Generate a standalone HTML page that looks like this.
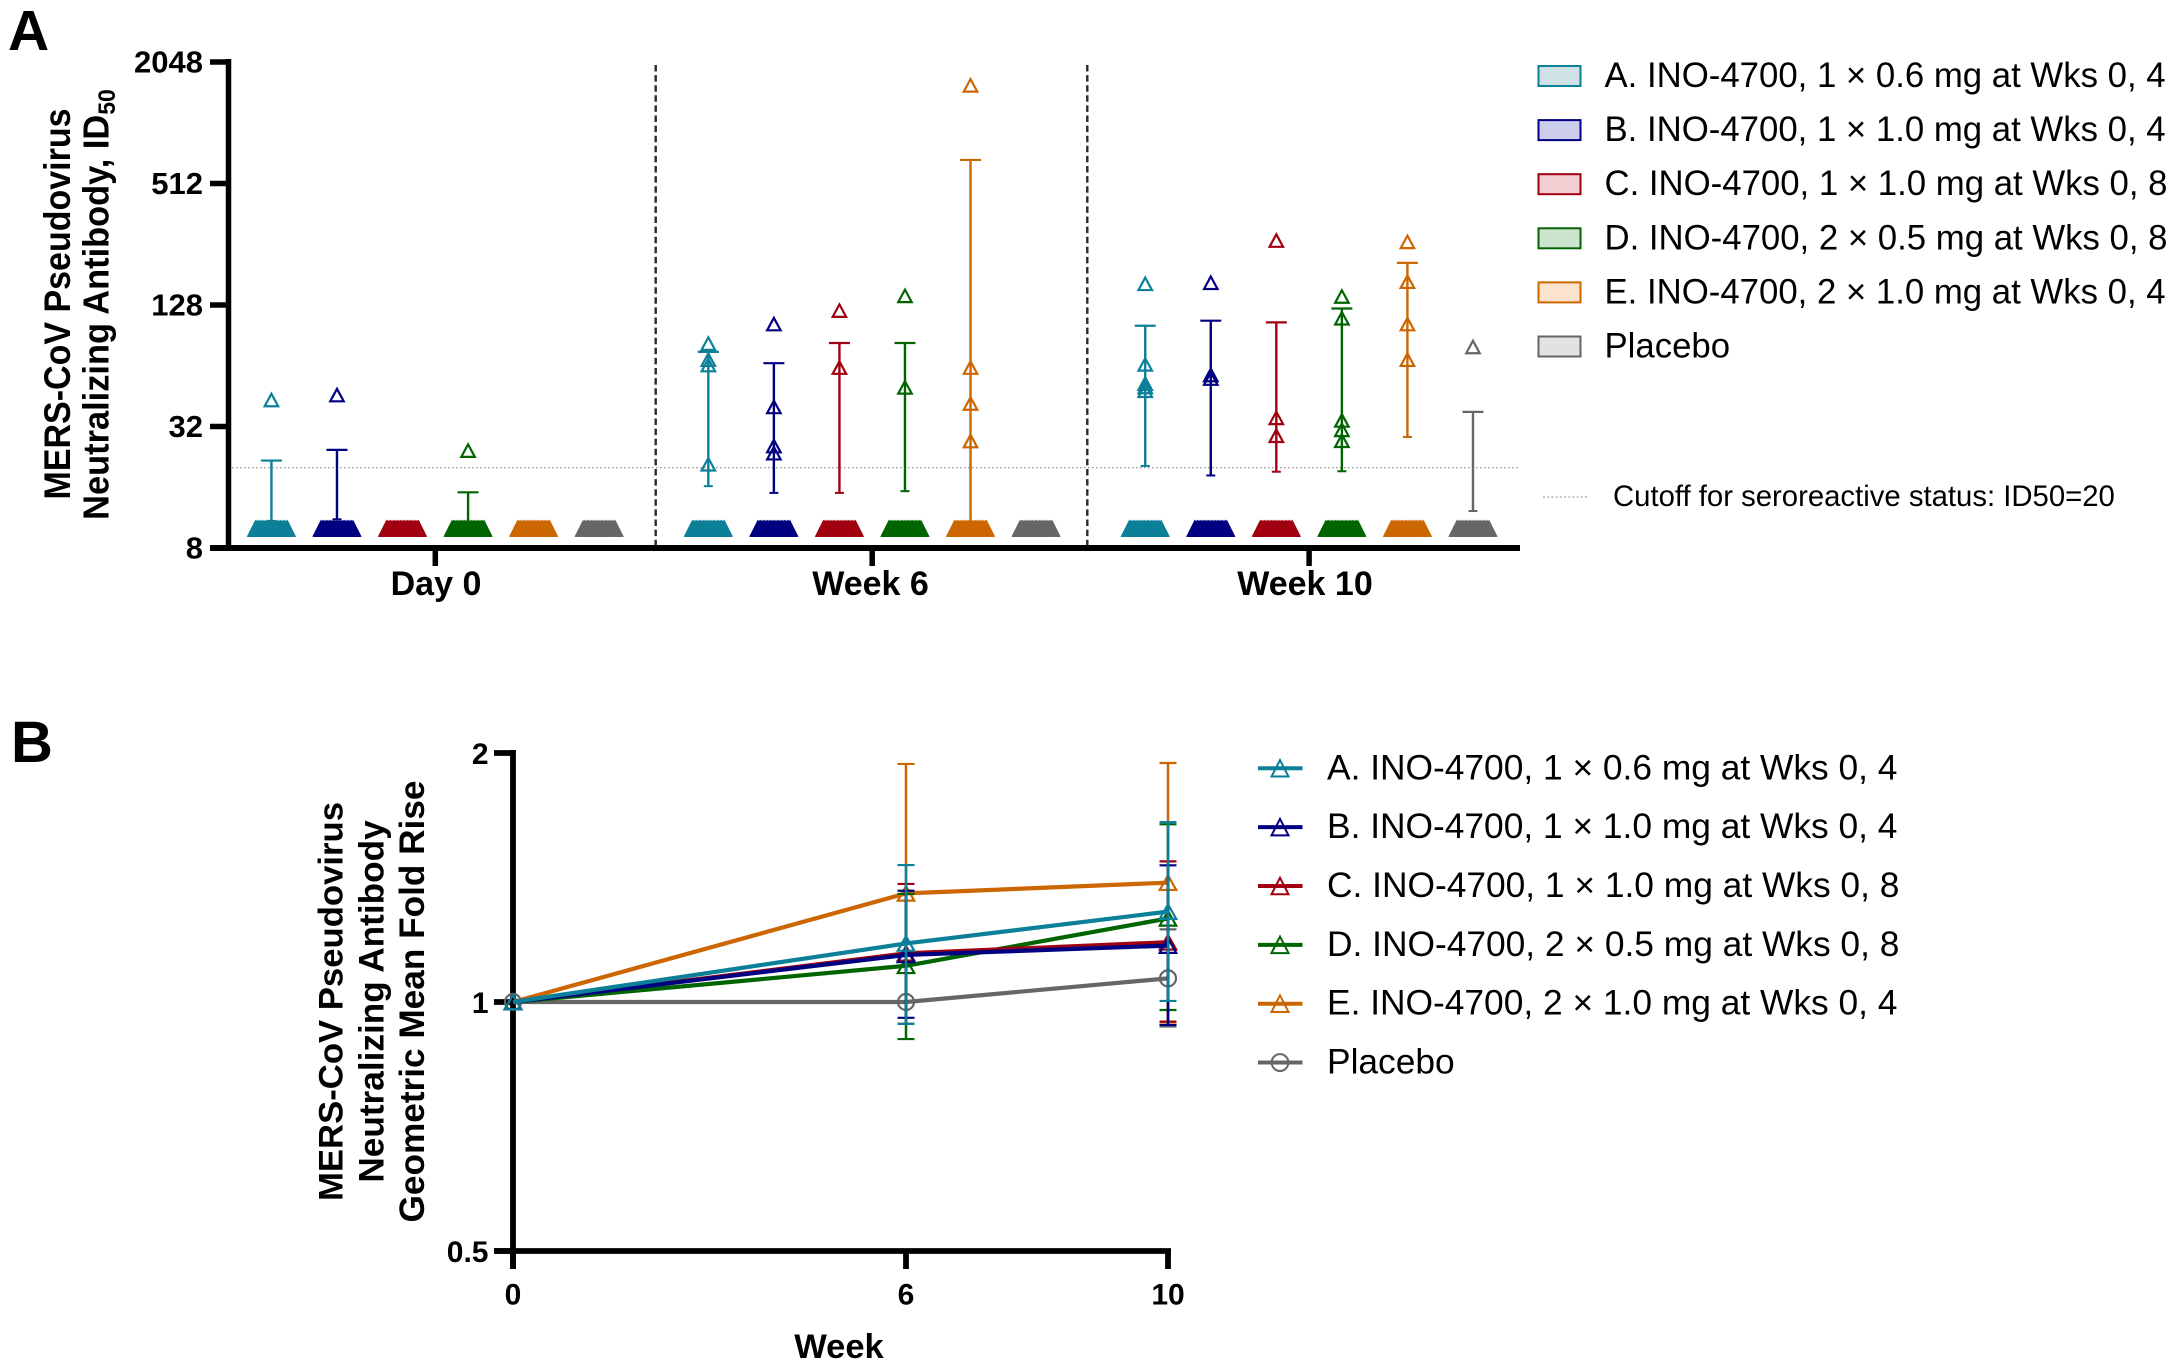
<!DOCTYPE html>
<html lang="en">
<head>
<meta charset="utf-8">
<title>MERS-CoV Pseudovirus Neutralizing Antibody</title>
<style>
html,body{margin:0;padding:0;background:#fff;}
svg{display:block;font-family:"Liberation Sans",Arial,sans-serif;}
.b{font-weight:700;fill:#000;}
.r{fill:#000;}
</style>
</head>
<body>
<svg id="fig" width="2174" height="1366" viewBox="0 0 2174 1366" xmlns="http://www.w3.org/2000/svg">
  <rect width="2174" height="1366" fill="#fff"/>
  <text class="b" x="8" y="50" font-size="57">A</text>
  <text class="b" x="11" y="762" font-size="58">B</text>
  <text class="b" text-anchor="middle" font-size="34" transform="translate(70,304) rotate(-90) scale(1,1.1)">MERS-CoV Pseudovirus</text>
  <text class="b" text-anchor="middle" font-size="34.4" transform="translate(108.5,304.5) rotate(-90) scale(1,1.05)">Neutralizing Antibody, ID<tspan font-size="23" dy="6">50</tspan></text>
  <text class="b" text-anchor="middle" font-size="34.7" transform="translate(342.5,1001.5) rotate(-90)">MERS-CoV Pseudovirus</text>
  <text class="b" text-anchor="middle" font-size="35.2" transform="translate(383.5,1001.5) rotate(-90)">Neutralizing Antibody</text>
  <text class="b" text-anchor="middle" font-size="35.2" transform="translate(424,1001.5) rotate(-90)">Geometric Mean Fold Rise</text>
  <text class="b" text-anchor="middle" font-size="34.5" x="839" y="1358">Week</text>
  <text class="r" x="1613" y="506" font-size="29.3">Cutoff for seroreactive status: ID50=20</text>
  <line x1="1543" x2="1588" y1="497" y2="497" stroke="#b4b4b4" stroke-width="1.6" stroke-dasharray="2 2.2"/>
</svg>
<script>
// ---------- shared ----------
const groupLabels = ['A. INO-4700, 1 × 0.6 mg at Wks 0, 4','B. INO-4700, 1 × 1.0 mg at Wks 0, 4','C. INO-4700, 1 × 1.0 mg at Wks 0, 8','D. INO-4700, 2 × 0.5 mg at Wks 0, 8','E. INO-4700, 2 × 1.0 mg at Wks 0, 4','Placebo'];
const seriesColors = ['#0c7f99','#000080','#a00010','#006400','#cc6600','#666666'];
const swatchFills = ['#d0e1e6','#cccdeb','#f3ced2','#cde5cf','#fce3ce','#e2e2e2'];

// ---------- panel A data ----------
const timeCategories = ['Day 0','Week 6','Week 10'];
const yTicksA = [8,32,128,512,2048];
const cutoffValue = 20;
const lodValue = 10;
const lodCounts = [24,24,24,24,24,24];
const day0Points = [[43.3],[45.8],[],[24.3],[],[]];
const day0Upper = [21.7,24.5,10,15.1,10,10];
const day0Lower = [10.9,11.1,10,10.4,10,10];
const week6Points = [[82.4,68.6,64.5,20.8],[103,40,25.6,23.6],[120,62.7],[142,50],[1568,62.7,41.6,27.1],[]];
const week6Upper = [75,65.9,83,83,670,10];
const week6Lower = [16.2,15,15,15.3,10.6,10];
const week10Points = [[163,65,52.2,50.2,48.1],[165,57.6,55.3],[267,35.3,28.8],[141,110,34.3,30.8,27.2],[263,167,103,68.6],[79.3]];
const week10Upper = [101,107,105,123,207,37.8];
const week10Lower = [20.4,18.3,19.1,19.2,28.4,12.2];
const pointsByTime = [day0Points,week6Points,week10Points];
const upperByTime = [day0Upper,week6Upper,week10Upper];
const lowerByTime = [day0Lower,week6Lower,week10Lower];

// ---------- panel B data ----------
const weekTicks = [0,6,10];
const yTicksB = [0.5,1,2];
const foldA = [1,1.177,1.286];
const foldB = [1,1.140,1.170];
const foldC = [1,1.145,1.181];
const foldD = [1,1.106,1.262];
const foldE = [1,1.353,1.394];
const foldPlacebo = [1,1.0,1.068];
const upperA = [null,1.464,1.65];
const lowerA = [null,0.941,1.003];
const upperB = [null,1.363,1.463];
const lowerB = [null,0.957,0.938];
const upperC = [null,1.389,1.479];
const lowerC = [null,0.941,0.947];
const upperD = [null,1.351,1.64];
const lowerD = [null,0.902,0.978];
const upperE = [null,1.94,1.945];
const lowerE = [null,0.941,0.945];
const upperPlacebo = [null,null,1.224];
const lowerPlacebo = [null,null,0.934];
const foldSeries = [foldA,foldB,foldC,foldD,foldE,foldPlacebo];
const upperSeries = [upperA,upperB,upperC,upperD,upperE,upperPlacebo];
const lowerSeries = [lowerA,lowerB,lowerC,lowerD,lowerE,lowerPlacebo];

// ---------- helpers ----------
const svg = document.getElementById('fig');
const NS = 'http://www.w3.org/2000/svg';
function mk(parent, tag, attrs, txt){
  const el = document.createElementNS(NS, tag);
  for (const k in attrs) el.setAttribute(k, attrs[k]);
  if (txt !== undefined) el.textContent = txt;
  parent.appendChild(el);
  return el;
}
function triPts(cx, cy, w, h){
  return (cx-w/2)+','+(cy+h/2)+' '+cx+','+(cy-h/2)+' '+(cx+w/2)+','+(cy+h/2);
}

// ---------- axis functions ----------
function yA(v){ return 548 - 60.75*Math.log2(v/8); }
function catX(i){ return 435.3 + 436.9*i; }
function catLabelX(i){ return 436 + 434.5*i; }
function dividerX(i){ return 655.7 + 431.6*i; }
function groupX(i,g){ return catX(i) + (g-2.5)*65.55; }
function yB(v){ return 1002 - 249*Math.log2(v); }
function xB(w){ return 513 + 65.5*w; }

// ---------- panel A ----------
const gA = mk(svg,'g',{});



const cut = mk(gA,'line',{x1:232,x2:1520,y1:yA(cutoffValue),y2:yA(cutoffValue),stroke:'#8a8a8a','stroke-width':1.2,'stroke-dasharray':'1.6 2.4'});



[0,1].forEach(function(i){
  const sx = dividerX(i);
  const d = mk(gA,'line',{x1:sx,x2:sx,y1:65,y2:548,stroke:'#2a2a2a','stroke-width':2.4,'stroke-dasharray':'6.5 3.6'});
  
  
});

timeCategories.forEach(function(cat,t){
  groupLabels.forEach(function(lab,g){
    const col = seriesColors[g];
    const cx = groupX(t,g);
    const grp = mk(gA,'g',{fill:'none',stroke:col});
    
    
    // undetectable participants, stacked side by side at the assay floor
    const n = lodCounts[g];
    for (let k=0;k<n;k++){
      const p = mk(grp,'polygon',{points:triPts(cx+(k-(n-1)/2)*1.4,yA(lodValue)+0.4,14,14),'stroke-width':2,'stroke-linejoin':'miter'});
      
      
    }
    pointsByTime[t][g].forEach(function(v){
      const p = mk(grp,'polygon',{points:triPts(cx,yA(v),13.5,12.5),'stroke-width':2.2,'stroke-linejoin':'miter'});
      
      
    });
    const up = upperByTime[t][g], lo = lowerByTime[t][g];
    const bar = mk(grp,'line',{x1:cx,x2:cx,y1:yA(up),y2:yA(lo),'stroke-width':2.4});
    
    
    const capU = mk(grp,'line',{x1:cx-10.5,x2:cx+10.5,y1:yA(up),y2:yA(up),'stroke-width':2.2});
    
    
    const capL = mk(grp,'line',{x1:cx-4.5,x2:cx+4.5,y1:yA(lo),y2:yA(lo),'stroke-width':2});
    
    
  });
});

const axYA = mk(gA,'line',{x1:228.5,x2:228.5,y1:yA(2048)-3,y2:yA(8)+3,stroke:'#000','stroke-width':5.5});


const axXA = mk(gA,'line',{x1:210,x2:1520,y1:yA(8),y2:yA(8),stroke:'#000','stroke-width':6});


yTicksA.forEach(function(v){
  const tk = mk(gA,'line',{x1:210,x2:228,y1:yA(v),y2:yA(v),stroke:'#000','stroke-width':5.5});
  
  
  const tl = mk(gA,'text',{x:203,y:yA(v)+10.5,'text-anchor':'end','font-size':31,'class':'b'},String(v));
  
  
});
timeCategories.forEach(function(cat,t){
  const tk = mk(gA,'line',{x1:catX(t),x2:catX(t),y1:548,y2:566,stroke:'#000','stroke-width':5.5});
  
  
  const tl = mk(gA,'text',{x:catLabelX(t),y:595,'text-anchor':'middle','font-size':34,'class':'b'},cat);
  
  
});

// panel A legend
groupLabels.forEach(function(lab,g){
  const cy = 76 + g*54.1;
  const sw = mk(svg,'rect',{x:1538.5,y:cy-10,width:42,height:20,fill:swatchFills[g],stroke:seriesColors[g],'stroke-width':2});
  
  
  const tx = mk(svg,'text',{x:1604.5,y:cy+11,'font-size':34.75,'class':'r'},lab);
  
  
});

// ---------- panel B ----------
const gB = mk(svg,'g',{});



const axYB = mk(gB,'line',{x1:513,x2:513,y1:yB(2)-3,y2:1269,stroke:'#000','stroke-width':5.8});


const axXB = mk(gB,'line',{x1:494,x2:xB(10)+3,y1:yB(0.5),y2:yB(0.5),stroke:'#000','stroke-width':5.8});


yTicksB.forEach(function(v){
  const tk = mk(gB,'line',{x1:494,x2:512,y1:yB(v),y2:yB(v),stroke:'#000','stroke-width':5.8});
  
  
  const tl = mk(gB,'text',{x:488.5,y:yB(v)+11,'text-anchor':'end','font-size':30,'class':'b'},String(v));
  
  
});
weekTicks.forEach(function(w){
  const tk = mk(gB,'line',{x1:xB(w),x2:xB(w),y1:yB(0.5),y2:1269,stroke:'#000','stroke-width':5.8});
  
  
  const tl = mk(gB,'text',{x:xB(w),y:1304.5,'text-anchor':'middle','font-size':30,'class':'b'},String(w));
  
  
});

// Series drawn placebo first so group A ends up on top
[5,4,3,2,1,0].forEach(function(g){
  const col = seriesColors[g];
  const grp = mk(gB,'g',{fill:'none',stroke:col});
  
  
  const vals = foldSeries[g];
  // error bars
  weekTicks.forEach(function(w,i){
    const up = upperSeries[g][i], lo = lowerSeries[g][i];
    if (up === null || lo === null) return;
    const x = xB(w);
    const bar = mk(grp,'line',{x1:x,x2:x,y1:yB(up),y2:yB(lo),'stroke-width':2.5});
    
    
    const c1 = mk(grp,'line',{x1:x-8.5,x2:x+8.5,y1:yB(up),y2:yB(up),'stroke-width':2.2});
    
    
    const c2 = mk(grp,'line',{x1:x-8.5,x2:x+8.5,y1:yB(lo),y2:yB(lo),'stroke-width':2.2});
    
    
  });
  // line
  const pts = weekTicks.map(function(w,i){ return xB(w)+','+yB(vals[i]); }).join(' ');
  const ln = mk(grp,'polyline',{points:pts,'stroke-width':4.2,'stroke-linejoin':'round'});
  
  
  // markers
  weekTicks.forEach(function(w,i){
    if (g === 5){
      const m = mk(grp,'circle',{cx:xB(w),cy:yB(vals[i]),r:8,'stroke-width':2.2});
      
      
    } else {
      const m = mk(grp,'polygon',{points:triPts(xB(w),yB(vals[i]),16.5,14.5),'stroke-width':2.2});
      
      
    }
  });
});

// panel B legend
groupLabels.forEach(function(lab,g){
  const cy = 768.3 + g*58.85;
  const col = seriesColors[g];
  const ln = mk(svg,'line',{x1:1258,x2:1302.5,y1:cy,y2:cy,stroke:col,'stroke-width':4});
  
  
  if (g === 5){
    const m = mk(svg,'circle',{cx:1280,cy:cy,r:8.4,fill:'none',stroke:col,'stroke-width':2});
    
    
  } else {
    const m = mk(svg,'polygon',{points:triPts(1280,cy,17,16.5),fill:'none',stroke:col,'stroke-width':2});
    
    
  }
  const tx = mk(svg,'text',{x:1327,y:cy+11,'font-size':35.35,'class':'r'},lab);
  
  
});
</script>
</body>
</html>
